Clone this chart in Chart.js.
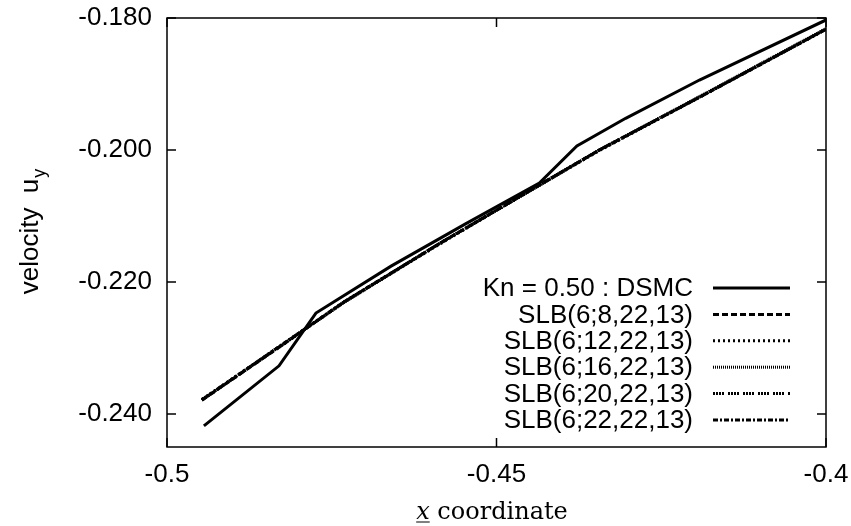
<!DOCTYPE html>
<html>
<head>
<meta charset="utf-8">
<script src="https://cdn.jsdelivr.net/npm/chart.js@4.4.1/dist/chart.umd.min.js"></script>
<style>
  body { margin: 0; background: #fff; }
  canvas { display: block; }
</style>
</head>
<body>
<canvas id="velChart" width="851" height="526"></canvas>
<script>
// data
var xTicks = [-0.5, -0.45, -0.4];
var xTickLabels = ["-0.5", "-0.45", "-0.4"];
var yTicks = [-0.24, -0.22, -0.2, -0.18];
var yTickLabels = ["-0.240", "-0.220", "-0.200", "-0.180"];

var dsmcX = [-0.4944, -0.4830, -0.4774, -0.4660, -0.4547, -0.4435, -0.4378, -0.4304, -0.4192, -0.4000];
var dsmcY = [-0.2418, -0.2327, -0.2247, -0.2176, -0.2112, -0.2050, -0.1994, -0.1952, -0.1894, -0.1803];

var slbX = [-0.4947, -0.4830, -0.4731, -0.4587, -0.4435, -0.4344, -0.4192, -0.4000];
var slb8Y = [-0.2379, -0.2299, -0.2230, -0.2142, -0.2053, -0.2000, -0.1920, -0.1817];
var slb12Y = [-0.2378, -0.2298, -0.2230, -0.2143, -0.2053, -0.2001, -0.1920, -0.1817];
var slb16Y = [-0.2379, -0.2298, -0.2231, -0.2142, -0.2054, -0.2000, -0.1919, -0.1816];
var slb20Y = [-0.2378, -0.2299, -0.2230, -0.2142, -0.2053, -0.2000, -0.1920, -0.1817];
var slb22Y = [-0.2379, -0.2298, -0.2230, -0.2142, -0.2053, -0.2000, -0.1920, -0.1817];

var seriesLabels = [
  "Kn = 0.50 : DSMC",
  "SLB(6;8,22,13)",
  "SLB(6;12,22,13)",
  "SLB(6;16,22,13)",
  "SLB(6;20,22,13)",
  "SLB(6;22,22,13)"
];

function pts(xs, ys) {
  return xs.map(function (x, i) { return { x: x, y: ys[i] }; });
}

var dashes = [[], [6, 3], [2, 3], [1, 1], [2, 1, 2, 1, 2, 1, 2, 4], [5, 2, 2, 2]];
var seriesY = [dsmcY, slb8Y, slb12Y, slb16Y, slb20Y, slb22Y];

var datasets = seriesY.map(function (ys, i) {
  return {
    label: seriesLabels[i],
    data: pts(i === 0 ? dsmcX : slbX, ys),
    borderColor: "#000",
    borderWidth: 3,
    borderDash: dashes[i],
    pointRadius: 0,
    tension: 0,
    fill: false,
    order: 6 - i
  };
});

var tickFont = { family: "Liberation Sans", size: 26 };

// frame, inward ticks, axis titles and gnuplot-like key
var framePlugin = {
  id: "frame",
  afterDraw: function (chart) {
    var ctx = chart.ctx;
    var a = chart.chartArea;
    var xs = chart.scales.x, ys = chart.scales.y;
    ctx.save();
    ctx.strokeStyle = "#000";
    ctx.lineWidth = 1.5;
    ctx.setLineDash([]);
    ctx.strokeRect(a.left, a.top, a.right - a.left, a.bottom - a.top);
    ctx.beginPath();
    yTicks.forEach(function (v) {
      var y = ys.getPixelForValue(v);
      ctx.moveTo(a.left, y); ctx.lineTo(a.left + 9, y);
      ctx.moveTo(a.right, y); ctx.lineTo(a.right - 9, y);
    });
    xTicks.forEach(function (v) {
      var x = xs.getPixelForValue(v);
      ctx.moveTo(x, a.bottom); ctx.lineTo(x, a.bottom - 9);
      ctx.moveTo(x, a.top); ctx.lineTo(x, a.top + 9);
    });
    ctx.stroke();

    // y title with subscript
    ctx.fillStyle = "#000";
    ctx.save();
    ctx.translate(38, 232);
    ctx.rotate(-Math.PI / 2);
    ctx.font = "26px 'Liberation Sans'";
    var main = "velocity  u";
    var wMain = ctx.measureText(main).width;
    ctx.font = "18px 'Liberation Sans'";
    var wSub = ctx.measureText("y").width;
    var start = -(wMain + wSub) / 2;
    ctx.textBaseline = "alphabetic";
    ctx.textAlign = "left";
    ctx.font = "26px 'Liberation Sans'";
    ctx.fillText(main, start, 0);
    ctx.font = "18px 'Liberation Sans'";
    ctx.fillText("y", start + wMain + 1, 7);
    ctx.restore();

    // x title
    ctx.font = "italic 24px 'DejaVu Serif'";
    var wx = ctx.measureText("x").width;
    ctx.font = "24px 'DejaVu Serif'";
    var wRest = ctx.measureText(" coordinate").width;
    var sx = 492 - (wx + wRest) / 2;
    ctx.textAlign = "left";
    ctx.textBaseline = "alphabetic";
    ctx.font = "italic 24px 'DejaVu Serif'";
    ctx.fillText("x", sx, 519);
    ctx.font = "24px 'DejaVu Serif'";
    ctx.fillText(" coordinate", sx + wx, 519);
    ctx.lineWidth = 1;
    ctx.beginPath();
    ctx.moveTo(sx, 522); ctx.lineTo(sx + wx, 522);
    ctx.stroke();

    // key
    ctx.font = "26px 'Liberation Sans'";
    ctx.textAlign = "right";
    ctx.textBaseline = "middle";
    chart.data.datasets.forEach(function (ds, i) {
      var y = 288 + i * 26.4;
      ctx.fillStyle = "#000";
      ctx.fillText(ds.label, 693, y + 1);
      ctx.lineWidth = ds.borderWidth;
      ctx.setLineDash(ds.borderDash);
      ctx.beginPath();
      ctx.moveTo(713, y);
      ctx.lineTo(790, y);
      ctx.stroke();
    });
    ctx.restore();
  }
};

var chart = new Chart(document.getElementById("velChart").getContext("2d"), {
  type: "line",
  data: { datasets: datasets },
  options: {
    responsive: false,
    animation: false,
    devicePixelRatio: 1,
    layout: { padding: { left: 0, top: 18, right: 25, bottom: 0 } },
    plugins: { legend: { display: false }, tooltip: { enabled: false } },
    scales: {
      x: {
        type: "linear",
        min: -0.5,
        max: -0.4,
        grid: { display: false, drawTicks: false },
        border: { display: false },
        ticks: {
          font: tickFont,
          color: "#000",
          padding: 12,
          maxRotation: 0,
          callback: function (v) {
            var i = xTicks.findIndex(function (t) { return Math.abs(t - v) < 1e-9; });
            return i >= 0 ? xTickLabels[i] : "";
          }
        },
        afterBuildTicks: function (s) {
          s.ticks = xTicks.map(function (v) { return { value: v }; });
        },
        afterFit: function (s) {
          s.height = 79;
          s.paddingLeft = 0;
          s.paddingRight = 0;
        }
      },
      y: {
        type: "linear",
        min: -0.245,
        max: -0.18,
        grid: { display: false, drawTicks: false },
        border: { display: false },
        ticks: {
          font: tickFont,
          color: "#000",
          padding: 15,
          callback: function (v) {
            var i = yTicks.findIndex(function (t) { return Math.abs(t - v) < 1e-9; });
            return i >= 0 ? yTickLabels[i] : "";
          }
        },
        afterBuildTicks: function (s) {
          s.ticks = yTicks.map(function (v) { return { value: v }; });
        },
        afterFit: function (s) {
          s.width = 167;
          s.paddingTop = 0;
          s.paddingBottom = 0;
        }
      }
    }
  },
  plugins: [framePlugin]
});
</script>
</body>
</html>
